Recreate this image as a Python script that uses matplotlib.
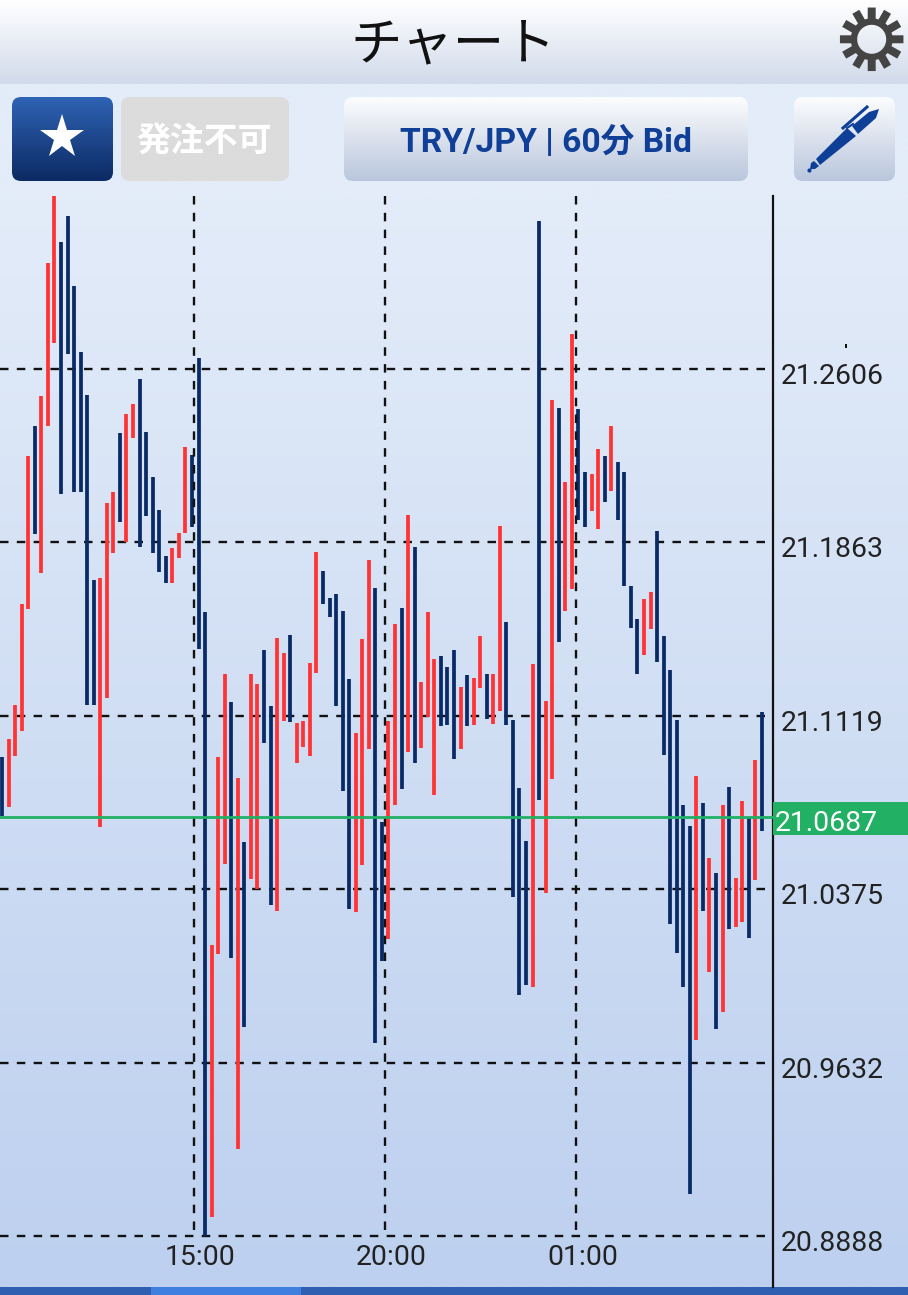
import numpy as np
import matplotlib
matplotlib.use("Agg")
import matplotlib.pyplot as plt
from matplotlib.patches import FancyBboxPatch, Polygon, PathPatch, Rectangle
from matplotlib.path import Path
from matplotlib.transforms import blended_transform_factory

W, H = 908, 1295

# bid highs / lows per 60 min bar
highs = [21.0943, 21.1020, 21.1166, 21.1599, 21.2233, 21.2362, 21.2490, 21.3060, 21.3347, 21.3150,
         21.3262, 21.2962, 21.2679, 21.2495, 21.1702, 21.1710, 21.2032, 21.2079, 21.2332, 21.2413,
         21.2456, 21.2563, 21.2336, 21.2143, 21.2002, 21.1805, 21.1839, 21.1903, 21.2272, 21.2237,
         21.2653, 21.1565, 21.0137, 21.0943, 21.1299, 21.1179, 21.0853, 21.0579, 21.1299, 21.1256,
         21.1402, 21.1162, 21.1453, 21.1389, 21.1466, 21.1089, 21.1097, 21.1346, 21.1822, 21.1740,
         21.1625, 21.1642, 21.1569, 21.1277, 21.1046, 21.1449, 21.1787, 21.1667, 21.0665, 21.1097,
         21.1513, 21.1582, 21.1980, 21.1843, 21.1265, 21.1565, 21.1363, 21.1376, 21.1329, 21.1402,
         21.1243, 21.1295, 21.1282, 21.1462, 21.1299, 21.1299, 21.1933, 21.1522, 21.1102, 21.0810,
         21.0583, 21.1342, 21.3240, 21.1183, 21.2473, 21.2439, 21.2122, 21.2756, 21.2435, 21.2165,
         21.2156, 21.2263, 21.2233, 21.2362, 21.2207, 21.2165, 21.1676, 21.1535, 21.1620, 21.1650,
         21.1912, 21.1462, 21.1316, 21.1102, 21.0737, 21.0647, 21.0862, 21.0746, 21.0510, 21.0446,
         21.0737, 21.0815, 21.0425, 21.0755, 21.0682, 21.0930, 21.1136]
lows = [21.0690, 21.0729, 21.0947, 21.1055, 21.1577, 21.1899, 21.1732, 21.2362, 21.2717, 21.2070,
        21.2670, 21.2079, 21.2079, 21.1166, 21.1166, 21.0643, 21.1196, 21.1817, 21.1950, 21.1865,
        21.2310, 21.1843, 21.1976, 21.1817, 21.1736, 21.1689, 21.1689, 21.1796, 21.1903, 21.1929,
        21.1406, 20.8890, 20.8972, 21.0099, 21.0485, 21.0082, 20.9263, 20.9786, 21.0420, 21.0377,
        21.1003, 21.0309, 21.0283, 21.1097, 21.1093, 21.0917, 21.0986, 21.0947, 21.1303, 21.1599,
        21.1543, 21.1162, 21.0797, 21.0292, 21.0279, 21.0480, 21.0977, 20.9717, 21.0069, 21.0163,
        21.0737, 21.0806, 21.0965, 21.0917, 21.0982, 21.1115, 21.0780, 21.1076, 21.1080, 21.0935,
        21.0977, 21.1076, 21.1080, 21.1239, 21.1106, 21.1085, 21.1140, 21.1080, 21.0343, 20.9923,
        20.9966, 20.9957, 21.0759, 21.0360, 21.0849, 21.1436, 21.1569, 21.1663, 21.1959, 21.1929,
        21.1997, 21.1920, 21.2036, 21.2083, 21.1959, 21.1676, 21.1496, 21.1299, 21.1380, 21.1492,
        21.1350, 21.0952, 21.0227, 21.0103, 20.9957, 20.9070, 20.9730, 21.0283, 21.0022, 20.9777,
        20.9850, 21.0206, 21.0215, 21.0236, 21.0167, 21.0416, 21.0626]
# r = red bar, b = navy bar
bar_kind = list("brrrrbrrrb" "bbbbbrrrbr" "rbbbbbrrrb" "bbrrrbrbrr" "bbrrbrrrrb" "bbbbrrrbbr"
                "rbrbrrrbbb" "rbrrbrrbbb" "brbrrbrrbb" "rrbrbbbbrr" "bbbbbbrbrb" "rbrrbrb")

price_ticks = [21.2606, 21.1863, 21.1119, 21.0375, 20.9632, 20.8888]
time_labels = ["15:00", "20:00", "01:00"]
time_pos = [29.25, 58.47, 87.7]
current_price = 21.0687

NAVY = "#082a66"
RED = "#ff3333"
GREEN = "#21b064"

plt.rcParams["font.family"] = ["Roboto", "Noto Sans CJK JP", "DejaVu Sans"]

fig = plt.figure(figsize=(W / 100, H / 100), dpi=100)

# page furniture drawn in pixel coordinates
bg = fig.add_axes([0, 0, 1, 1])
bg.set_xlim(0, W)
bg.set_ylim(H, 0)
bg.axis("off")


def gradient(ax, box, top, bottom, clip=None, z=0):
    c1 = np.array(matplotlib.colors.to_rgb(top))
    c2 = np.array(matplotlib.colors.to_rgb(bottom))
    t = np.linspace(0, 1, 256)[:, None, None]
    img = c1[None, None, :] * (1 - t) + c2[None, None, :] * t
    im = ax.imshow(img, extent=(box[0], box[1], box[3], box[2]), aspect="auto", zorder=z, interpolation="bilinear")
    if clip is not None:
        im.set_clip_path(clip)
    return im


def button(x0, x1, y0, y1, top, bottom):
    p = FancyBboxPatch((x0 + 8, y0 + 8), x1 - x0 - 16, y1 - y0 - 16, boxstyle="round,pad=8,rounding_size=9",
                       fc="none", ec="none", transform=bg.transData, zorder=2)
    bg.add_patch(p)
    gradient(bg, (x0, x1, y0, y1), top, bottom, clip=p, z=2)


gradient(bg, (0, W, 0, 84), "#ffffff", "#d1daeb")
gradient(bg, (0, W, 84, 196), "#e3ecf9", "#e3ecf9")
gradient(bg, (0, W, 196, 1287), "#e3ecf9", "#bdd0ef")
bg.add_patch(Rectangle((0, 1287), W, 8, fc="#2e5fb0", ec="none", zorder=1))
bg.add_patch(Rectangle((151, 1287), 150, 8, fc="#3f7fe0", ec="none", zorder=1))
bg.set_xlim(0, W)
bg.set_ylim(H, 0)

bg.text(453.5, 45, "チャート", fontsize=37, family="Noto Sans CJK JP", weight="normal", color="#111111",
        ha="center", va="center", zorder=3)

# settings gear, 12 square teeth
outer = []
for a in np.arange(12) * np.pi / 6:
    for r, w in [(21, -0.19), (32, -0.125), (32, 0.125), (21, 0.19)]:
        outer.append((871.7 + r * np.sin(a + w), 39.3 - r * np.cos(a + w)))
outer = np.array(outer)
th = np.linspace(0, 2 * np.pi, 60)
hole = np.c_[871.7 + 14.5 * np.cos(th), 39.3 - 14.5 * np.sin(th)]
gear = Path.make_compound_path(Path(np.vstack([outer, outer[:1]]), closed=True), Path(hole, closed=True))
bg.add_patch(PathPatch(gear, fc="#444444", ec="none", zorder=3))

button(12, 113, 97, 181, "#2f63b5", "#0c2a62")
bg.plot([62], [137], marker="*", ms=33, mfc="white", mec="white", mew=0, zorder=3)

button(121, 289, 97, 181, "#dcdcdc", "#dcdcdc")
bg.text(204, 141, "発注不可", fontsize=24.4, family="Noto Sans CJK JP", weight="bold", color="white",
        ha="center", va="center", zorder=3)

button(344, 748, 97, 181, "#fcfdfe", "#b9c6dc")
bg.text(546.5, 143, "TRY/JPY | 60分 Bid", fontsize=24.2, weight="bold", color="#0f3f96",
        ha="center", va="center", zorder=3)

button(794, 895, 97, 181, "#fcfdfe", "#b9c6dc")
pen_parts = [
    [(810, 169), (811, 163), (814, 161), (819, 166), (815, 169)],
    [(816, 159), (847, 128), (856, 136), (820, 165)],
    [(852, 126), (869, 112), (879, 109), (876, 118), (858, 134)],
]
for part in pen_parts:
    bg.add_patch(Polygon(part, closed=True, fc="#0f4098", ec="none", zorder=3))
bg.plot([843, 867], [128, 107], color="#0f4098", lw=2.2, zorder=3)
bg.plot([847, 853], [128, 124], color="#0f4098", lw=1.5, zorder=3)
bg.plot([809], [170], marker="o", ms=2, color="#0f4098", zorder=3)

# chart area
ax = fig.add_axes([0, (H - 1287) / H, 773 / W, (1287 - 196) / H], zorder=2)
ax.patch.set_alpha(0)
ax.set_xlim(-0.305, 117.7)
ax.set_ylim(20.8671, 21.3347)

for spine in ["top", "left", "bottom"]:
    ax.spines[spine].set_visible(False)
ax.spines["right"].set_linewidth(1.6)
ax.spines["right"].set_color("#111111")
ax.set_xticks([])
ax.set_yticks([])

dash = (0, (3.6, 3.52))
for p in price_ticks:
    ax.plot([-0.305, 116.5], [p, p], color="#111111", lw=1.7, ls=dash, zorder=1)
    ax.annotate(f"{p:.4f}", xy=(1, p), xycoords=("axes fraction", "data"), xytext=(5.8, -5.2),
                textcoords="offset points", fontsize=20.4, color="#222222", va="center", ha="left",
                annotation_clip=False)

idx = np.arange(len(highs))
colors = [RED if k == "r" else NAVY for k in bar_kind]
ax.vlines(idx, lows, highs, colors=colors, lw=2.7, capstyle="butt", zorder=2)

for t, lab in zip(time_pos, time_labels):
    ax.plot([t, t], [21.3347, 20.8888], color="#111111", lw=1.7, ls=dash, zorder=3)
    ax.annotate(lab, xy=(t, 0), xycoords=("data", "axes fraction"), xytext=(4.7, 21.5),
                textcoords="offset points", fontsize=20.4, color="#222222", va="center", ha="center")

ax.axhline(current_price, color=GREEN, lw=2, zorder=4)
tag_tr = blended_transform_factory(ax.transAxes, ax.transData)
ax.add_patch(Rectangle((1, current_price - 0.0078), 0.175, 0.0139, transform=tag_tr, fc=GREEN, ec="none",
                       clip_on=False, zorder=4))
ax.annotate(f"{current_price:.4f}", xy=(1, current_price), xycoords=("axes fraction", "data"), xytext=(1.0, -5),
            textcoords="offset points", fontsize=20.4, color="white", va="center", ha="left",
            annotation_clip=False, zorder=5)

bg.add_patch(Rectangle((844.5, 344), 2.5, 4, fc="#111111", ec="none", zorder=3))

fig.savefig("out.png", dpi=100)
